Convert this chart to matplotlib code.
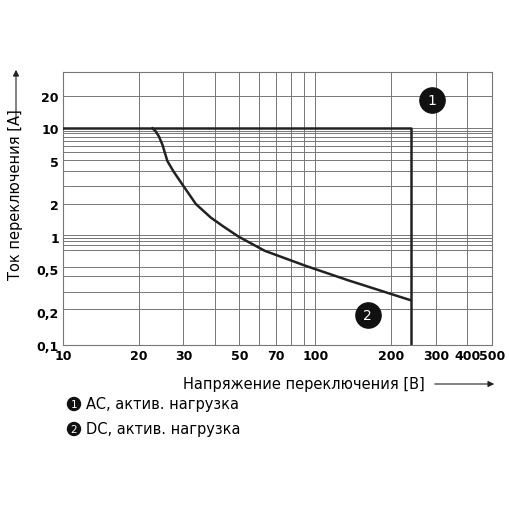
import matplotlib
matplotlib.use("Agg")
import matplotlib.pyplot as plt
from matplotlib.ticker import FixedLocator, NullFormatter

ac_x = [10, 240, 240]
ac_y = [10, 10, 0.1]
dc_x = [22.6, 23.2, 24.0, 24.8, 25.9, 27.4, 29.8, 33.6, 38.5, 43, 49.6, 63, 91, 135, 237]
dc_y = [10, 9.5, 8.4, 7.0, 5.0, 4.0, 3.0, 2.0, 1.5, 1.25, 1.0, 0.74, 0.54, 0.395, 0.26]
x_ticks = [10, 20, 30, 50, 70, 100, 200, 300, 400, 500]
x_ticklabels = ["10", "20", "30", "50", "70", "100", "200", "300", "400", "500"]
x_grid = [20, 30, 40, 50, 60, 70, 80, 90, 100, 200, 300, 400]
y_ticks = [0.1, 0.2, 0.5, 1, 2, 5, 10, 20]
y_ticklabels = ["0,1", "0,2", "0,5", "1", "2", "5", "10", "20"]
y_grid = [20, 10, 9.46, 9.0, 8.4, 7.7, 6.8, 6.0, 5.05, 4.0, 2.96, 2.0,
          1.03, 0.98, 0.91, 0.83, 0.75, 0.53, 0.43, 0.31, 0.215]

fig = plt.figure(figsize=(5.1, 5.1), dpi=100)
ax = fig.add_axes([0.1235, 0.3216, 0.841, 0.535])
ax.set_xscale("log"); ax.set_yscale("log")
ax.set_xlim(10, 500); ax.set_ylim(0.1, 33)
for v in x_grid:
    ax.axvline(v, color="#777777", lw=0.7, zorder=1)
for v in y_grid:
    ax.axhline(v, color="#777777", lw=0.7, zorder=1)
ax.plot(ac_x, ac_y, color="#222222", lw=1.8, zorder=3)
ax.plot(dc_x, dc_y, color="#222222", lw=1.8, zorder=3)
ax.xaxis.set_major_locator(FixedLocator(x_ticks))
ax.set_xticklabels(x_ticklabels)
ax.xaxis.set_minor_formatter(NullFormatter())
ax.yaxis.set_major_locator(FixedLocator(y_ticks))
ax.set_yticklabels(y_ticklabels)
ax.yaxis.set_minor_formatter(NullFormatter())
ax.tick_params(which="both", length=0, labelsize=9, pad=3)
for l in ax.get_xticklabels() + ax.get_yticklabels():
    l.set_fontweight("bold")
for s in ax.spines.values():
    s.set_color("#777777"); s.set_linewidth(0.8)

for (x, y, t) in [(289, 18.1, "1"), (161, 0.189, "2")]:
    ax.scatter([x], [y], s=330, color="#111111", zorder=5, clip_on=False)
    ax.text(x, y, t, color="white", ha="center", va="center", fontsize=10, zorder=6)

fig.text(183/510, 1-385/510, "Напряжение переключения [B]", fontsize=10.5, va="center", ha="left")
fig.add_artist(matplotlib.patches.FancyArrowPatch((432/510, 1-385/510), (497/510, 1-385/510),
               transform=fig.transFigure, arrowstyle="-|>", mutation_scale=9, lw=0.8, color="#222222"))
fig.text(16/510, 1-195/510, "Ток переключения [A]", fontsize=10.5, va="center", ha="center", rotation=90)
fig.add_artist(matplotlib.patches.FancyArrowPatch((16/510, 1-122/510), (16/510, 1-68/510),
               transform=fig.transFigure, arrowstyle="-|>", mutation_scale=9, lw=0.8, color="#222222"))

for (yy, t, lab) in [(405, "1", "AC, актив. нагрузка"), (430, "2", "DC, актив. нагрузка")]:
    fig.add_artist(matplotlib.patches.Circle((74/510, 1-yy/510), 6.5/510, transform=fig.transFigure, color="#111111"))
    fig.text(74/510, 1-yy/510, t, color="white", fontsize=7.5, ha="center", va="center")
    fig.text(86/510, 1-yy/510, lab, fontsize=10.5, ha="left", va="center")

fig.savefig("out.png", dpi=100)
